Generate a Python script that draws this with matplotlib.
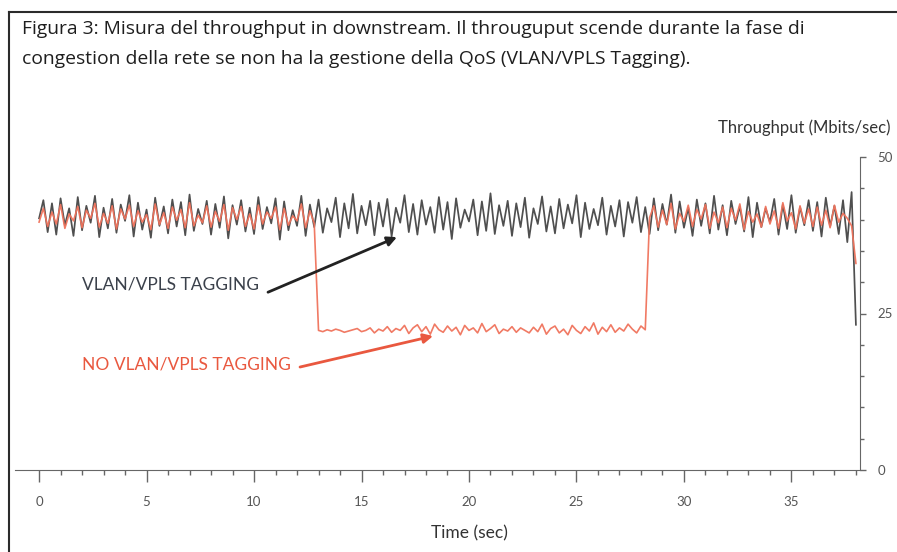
import numpy as np
import matplotlib.pyplot as plt
from matplotlib.lines import Line2D

# sample instants (sec) and throughput readings (Mbit/s)
time_s = np.round(np.arange(0, 38.01, 0.2), 1)

tagged = [
    40.2, 43.1, 38.0, 42.6, 37.6, 43.4, 39.1, 41.8, 37.4, 43.6,
    38.3, 42.2, 39.5, 43.8, 37.2, 41.9, 38.6, 43.3, 37.9, 42.4,
    39.8, 43.9, 37.3, 42.7, 38.4, 41.6, 37.1, 43.5, 39.0, 42.1,
    37.8, 43.2, 38.9, 42.8, 37.5, 44.0, 38.2, 41.7, 39.3, 43.0,
    37.6, 42.5, 38.7, 43.7, 37.0, 42.3, 39.2, 43.1, 38.1, 41.9,
    37.7, 43.6, 38.5, 42.0, 39.4, 43.4, 36.8, 42.9, 38.3, 41.5,
    39.0, 43.8, 37.4, 42.4, 38.8, 43.2, 37.9, 41.8, 39.6, 43.5,
    37.2, 42.6, 38.6, 44.1, 37.8, 42.2, 39.1, 43.0, 37.5, 42.7,
    38.9, 43.3, 37.3, 41.9, 39.5, 43.9, 38.0, 42.5, 37.6, 43.1,
    39.2, 42.0, 37.9, 43.6, 38.4, 42.8, 36.9, 43.4, 38.7, 41.6,
    39.7, 43.2, 37.5, 42.9, 38.2, 44.2, 37.7, 42.3, 39.0, 43.0,
    37.4, 42.6, 38.8, 43.5, 37.1, 41.8, 39.3, 43.7, 38.1, 42.1,
    37.8, 43.3, 38.6, 42.4, 39.4, 43.9, 37.2, 42.7, 38.5, 41.7,
    39.1, 43.5, 37.6, 42.2, 38.9, 43.1, 37.3, 42.8, 39.5, 43.6,
    38.0, 42.0, 37.7, 43.4, 38.3, 42.5, 39.2, 44.0, 37.9, 42.9,
    38.7, 41.9, 37.4, 43.2, 39.0, 42.6, 37.8, 43.8, 38.4, 42.3,
    37.5, 43.0, 39.3, 42.1, 38.1, 43.6, 37.2, 42.7, 38.8, 41.8,
    39.6, 43.3, 37.6, 42.4, 38.5, 43.9, 37.9, 42.0, 39.1, 43.1,
    38.2, 42.8, 37.3, 43.5, 38.9, 42.2, 37.7, 43.1, 36.4, 44.4,
    23.2,
]

untagged = [
    39.6, 41.8, 38.9, 41.2, 39.3, 42.4, 38.6, 40.9, 39.8, 42.1,
    38.7, 41.5, 40.2, 42.6, 38.8, 41.0, 39.4, 42.2, 38.5, 41.7,
    40.1, 42.3, 38.9, 41.4, 39.6, 40.8, 38.4, 42.5, 39.2, 41.1,
    38.6, 42.0, 39.9, 41.6, 38.7, 42.7, 39.0, 40.7, 39.5, 42.2,
    38.8, 41.3, 39.7, 42.4, 38.3, 41.9, 40.0, 42.1, 38.9, 40.9,
    38.5, 42.3, 39.3, 41.2, 40.2, 42.0, 38.4, 41.8, 39.1, 40.6,
    39.8, 42.5, 38.7, 41.4, 39.4,
    # congestion phase
    22.3, 22.1, 22.4, 22.2, 22.5, 22.3, 22.0, 22.2, 22.4, 22.6,
    22.1, 22.3, 22.7, 21.9, 22.5, 22.2, 22.9, 22.0, 22.6, 22.3,
    23.1, 21.8, 22.7, 23.2, 22.1, 22.9, 21.7, 23.3, 22.4, 22.0,
    23.0, 22.2, 22.8, 21.6, 23.1, 22.3, 22.7, 21.9, 23.4, 22.1,
    22.6, 23.2, 21.8, 22.5, 22.2, 22.9, 22.0, 22.7, 22.3, 21.9,
    22.8, 22.1, 23.3, 21.7, 22.6, 23.0, 21.9, 22.5, 21.6, 23.1,
    22.3, 21.8, 22.9, 22.2, 23.5, 21.7, 22.8, 22.1, 23.2, 22.0,
    22.7, 22.2, 23.3, 22.5, 21.9, 23.0, 22.4,
    # back to normal
    40.3, 42.2, 38.8, 41.5, 39.2, 42.6, 38.5, 41.0, 39.7, 42.3,
    38.9, 41.6, 40.1, 42.4, 38.6, 41.2, 39.5, 42.0, 38.7, 41.8,
    39.9, 42.5, 38.4, 41.3, 39.6, 40.9, 38.8, 42.1, 39.3, 41.4,
    38.6, 42.7, 39.8, 41.1, 38.5, 42.2, 39.4, 41.7, 38.9, 42.0,
    39.1, 41.5, 38.7, 42.3, 39.6, 41.0, 40.2, 39.0,
    33.0,
]

W, H = 897, 552
XMIN, XMAX = -1.12, 38.19
YMIN, YMAX = 0, 50

CAP_FONT = ['Open Sans', 'DejaVu Sans']
CH_FONT = ['Lato', 'DejaVu Sans']
GREY = '#4f4f4f'
RED = '#f0735c'
RED_TXT = '#e9583f'
AXIS_C = '#666666'


def fx(px):
    return px / W


def fy(py):
    return 1 - py / H


fig = plt.figure(figsize=(W / 100, H / 100), dpi=100)
fig.patch.set_facecolor('white')

# frame of the figure box (cut off at right and bottom in the scan)
fig.add_artist(Line2D([fx(9), 1.0], [fy(12), fy(12)], color='#2b2b2b', lw=1.5))
fig.add_artist(Line2D([fx(9), fx(9)], [fy(12), 0.0], color='#2b2b2b', lw=1.5))

fig.text(fx(22), fy(33.5), 'Figura 3: Misura del throughput in downstream. Il througuput scende durante la fase di',
         family=CAP_FONT, fontsize=13.9, weight=500, color='#1e1e1e', va='baseline')
fig.text(fx(22), fy(64.5), 'congestion della rete se non ha la gestione della QoS (VLAN/VPLS Tagging).',
         family=CAP_FONT, fontsize=13.9, weight=500, color='#1e1e1e', va='baseline')

ax = fig.add_axes([fx(15), fy(470), fx(860) - fx(15), fy(157) - fy(470)])
ax.set_xlim(XMIN, XMAX)
ax.set_ylim(YMIN, YMAX)

ax.plot(time_s, tagged, color=GREY, lw=1.25, zorder=2)
ax.plot(time_s, untagged, color=RED, lw=1.2, zorder=3, alpha=0.95)

for side in ['top', 'left']:
    ax.spines[side].set_visible(False)
ax.spines['bottom'].set_color(AXIS_C)
ax.spines['right'].set_color(AXIS_C)

ax.set_xticks(np.arange(0, 36, 5))
ax.set_xticks(np.arange(0, 39, 1), minor=True)
ax.tick_params(axis='x', which='major', direction='out', length=8.5, width=1,
               color=AXIS_C, pad=10, labelsize=9.5, labelcolor='#555555')
ax.tick_params(axis='x', which='minor', direction='out', length=3.5, width=1, color=AXIS_C)
for lab in ax.get_xticklabels():
    lab.set_family(CH_FONT)

ax.yaxis.tick_right()
ax.set_yticks([0, 25, 50])
ax.set_yticks(np.arange(0, 51, 5), minor=True)
ax.tick_params(axis='y', which='major', direction='out', length=4.5, width=1,
               color=AXIS_C, pad=8, labelsize=9.5, labelcolor='#555555')
ax.tick_params(axis='y', which='minor', direction='out', length=3, width=1, color=AXIS_C)
for lab in ax.get_yticklabels():
    lab.set_family(CH_FONT)

ax.set_xlabel('Time (sec)', family=CH_FONT, fontsize=12.5, color='#333333')
ax.xaxis.set_label_coords((469 - 15) / 845, -(533 - 470) / 313, transform=ax.transAxes)
ax.xaxis.label.set_va('center')
# the scan cuts this label at the right edge; keep it whole, just inside
fig.text(fx(890), fy(128), 'Throughput (Mbits/sec)', family=CH_FONT, fontsize=12,
         color='#333333', va='center', ha='right')

ax.text(2.0, 29.7, 'VLAN/VPLS TAGGING', family=CH_FONT, fontsize=12.5,
        color='#3b414b', va='center', ha='left')
ax.text(2.0, 16.8, 'NO VLAN/VPLS TAGGING', family=CH_FONT, fontsize=12.5,
        color=RED_TXT, va='center', ha='left')

ax.annotate('', xy=(16.65, 37.2), xytext=(10.65, 28.4),
            arrowprops=dict(arrowstyle='-|>', color='#222222', lw=2,
                            mutation_scale=14, shrinkA=0, shrinkB=0))
ax.annotate('', xy=(18.33, 21.4), xytext=(12.14, 16.45),
            arrowprops=dict(arrowstyle='-|>', color=RED_TXT, lw=2,
                            mutation_scale=14, shrinkA=0, shrinkB=0))

fig.savefig('out.png', dpi=100)
